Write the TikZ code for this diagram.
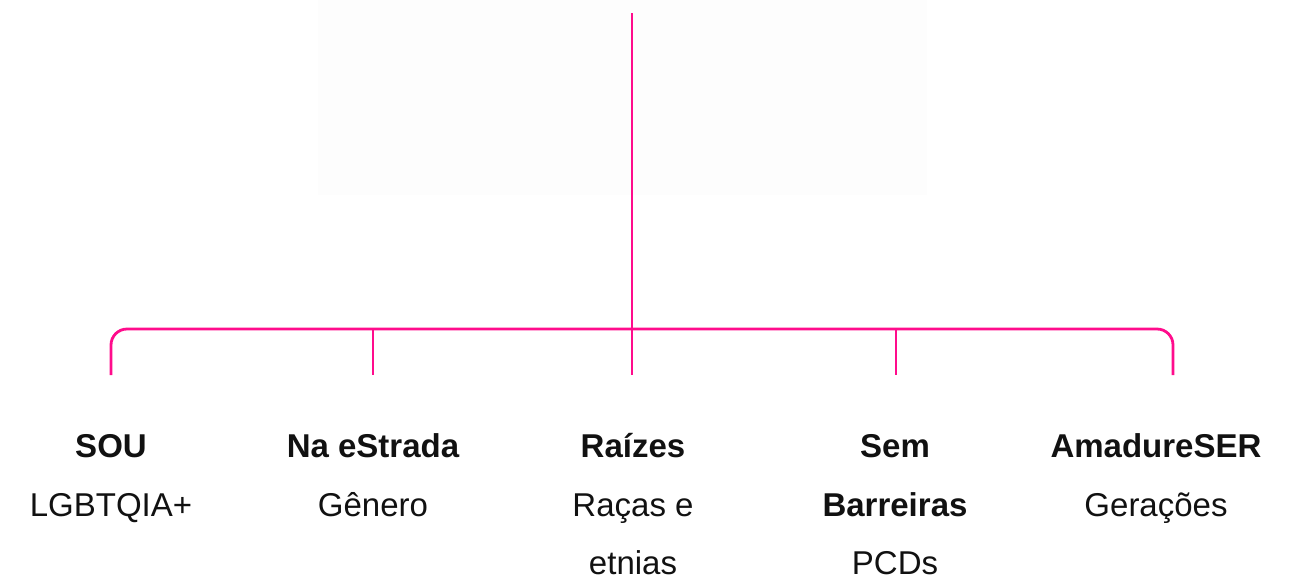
\documentclass[tikz,border=0pt]{standalone}
\usepackage{fontspec}
\setmainfont{Liberation Sans}
\definecolor{pinkline}{RGB}{255,12,140}
\definecolor{txt}{RGB}{17,17,17}
\definecolor{faint}{RGB}{253,253,253}
\begin{document}
\begin{tikzpicture}[x=1pt,y=-1pt,
  conn/.style={draw=pinkline,line width=2.8pt},
  title/.style={anchor=base,inner sep=0pt,text depth=0pt,text=txt,font=\fontsize{33}{40}\selectfont\bfseries},
  sub/.style={anchor=base,inner sep=0pt,text depth=0pt,text=txt,font=\fontsize{33}{40}\selectfont}]
\useasboundingbox (0,0) rectangle (1297,579);
\fill[faint] (318,0) rectangle (927,195);
% coordinates
\coordinate (top) at (632,13);
\coordinate (hub) at (632,329);
\coordinate (b1) at (111,375);
\coordinate (b2) at (373,375);
\coordinate (b3) at (632,375);
\coordinate (b4) at (896,375);
\coordinate (b5) at (1173,375);
\coordinate (j2) at (373,329);
\coordinate (j4) at (896,329);
% connectors
\draw[conn] (top) -- (b3);
\draw[conn,rounded corners=16pt] (b1) |- (hub) -| (b5);
\draw[conn] (j2) -- (b2);
\draw[conn] (j4) -- (b4);
% texts
\node[title] (t1) at (111,457) {SOU};
\node[sub]   (s1) at (111,516) {LGBTQIA+};
\node[title] (t2) at (373,457) {Na eStrada};
\node[sub]   (s2) at (373,516) {Gênero};
\node[title] (t3) at (633,457) {Raízes};
\node[sub]   (s3) at (633,516) {Raças e};
\node[sub]   (s3b) at (633,574) {etnias};
\node[title] (t4) at (895,457) {Sem};
\node[title] (t4b) at (895,516) {Barreiras};
\node[sub]   (s4) at (895,574) {PCDs};
\node[title] (t5) at (1156,457) {AmadureSER};
\node[sub]   (s5) at (1156,516) {Gerações};
\end{tikzpicture}
\end{document}
